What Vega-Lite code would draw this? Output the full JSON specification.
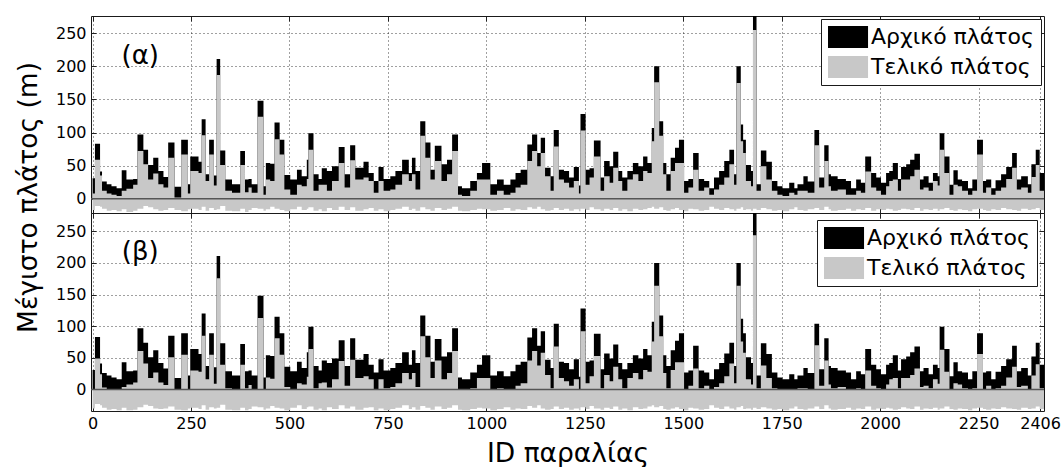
{
"$schema": "https://vega.github.io/schema/vega-lite/v6.json",
"padding": {"left": 14, "top": 15, "right": 15, "bottom": 0},
"spacing": 0,
"bounds": "flush",
"config": {
  "font": "DejaVu Sans",
  "view": {"stroke": "#1a1a1a", "strokeWidth": 1},
  "axis": {"domain": false, "ticks": true, "tickSize": -5, "tickColor": "#222", "labelPadding": 10, "labelFont": "DejaVu Sans", "labelFontSize": 16, "labelColor": "#000", "grid": true, "gridColor": "#000", "gridDash": [1, 3], "gridOpacity": 0.75, "titleFont": "DejaVu Sans", "titleFontWeight": "normal", "titleColor": "#000", "titleFontSize": 26.5, "labelOverlap": false, "labelFlush": false},
  "legend": {"title": null, "orient": "top-right", "symbolType": "M-1,-1H2.64V1H-1Z", "symbolSize": 484, "symbolStrokeWidth": 0, "symbolOpacity": 1, "labelFont": "DejaVu Sans", "labelFontSize": 22, "labelColor": "#000", "labelOffset": 21, "labelLimit": 400, "strokeColor": "#1a1a1a", "fillColor": "#ffffff", "padding": 7, "rowPadding": 8}
},
"datasets": {"w": [
{"s":0,"a":31,"f1":8,"f2":0,"n1":-17,"n2":-30},
{"s":6,"a":83,"f1":59,"f2":49,"n1":-11,"n2":-23},
{"s":19,"a":41,"f1":35,"f2":24,"n1":-12,"n2":-25},
{"s":24,"a":26,"f1":12,"f2":3,"n1":-15,"n2":-29},
{"s":36,"a":22,"f1":8,"f2":0,"n1":-18,"n2":-32},
{"s":48,"a":19,"f1":6,"f2":0,"n1":-17,"n2":-31},
{"s":61,"a":16,"f1":4,"f2":0,"n1":-19,"n2":-33},
{"s":74,"a":43,"f1":12,"f2":4,"n1":-16,"n2":-29},
{"s":86,"a":29,"f1":15,"f2":8,"n1":-20,"n2":-33},
{"s":103,"a":30,"f1":21,"f2":11,"n1":-18,"n2":-32},
{"s":114,"a":97,"f1":72,"f2":61,"n1":-15,"n2":-28},
{"s":129,"a":74,"f1":52,"f2":41,"n1":-11,"n2":-24},
{"s":141,"a":51,"f1":29,"f2":18,"n1":-13,"n2":-26},
{"s":154,"a":62,"f1":38,"f2":27,"n1":-16,"n2":-30},
{"s":167,"a":42,"f1":22,"f2":11,"n1":-18,"n2":-31},
{"s":180,"a":33,"f1":17,"f2":7,"n1":-17,"n2":-30},
{"s":192,"a":85,"f1":62,"f2":51,"n1":-14,"n2":-27},
{"s":208,"a":18,"f1":2,"f2":0,"n1":-17,"n2":-32},
{"s":225,"a":89,"f1":67,"f2":55,"n1":-19,"n2":-33},
{"s":242,"a":22,"f1":8,"f2":0,"n1":-16,"n2":-30},
{"s":248,"a":64,"f1":42,"f2":30,"n1":-15,"n2":-29},
{"s":269,"a":56,"f1":39,"f2":28,"n1":-17,"n2":-31},
{"s":277,"a":120,"f1":96,"f2":85,"n1":-12,"n2":-25},
{"s":287,"a":37,"f1":27,"f2":16,"n1":-18,"n2":-32},
{"s":296,"a":89,"f1":67,"f2":55,"n1":-14,"n2":-28},
{"s":308,"a":35,"f1":20,"f2":9,"n1":-17,"n2":-30},
{"s":315,"a":211,"f1":187,"f2":176,"n1":-16,"n2":-29},
{"s":324,"a":73,"f1":51,"f2":39,"n1":-11,"n2":-24},
{"s":337,"a":29,"f1":12,"f2":2,"n1":-18,"n2":-32},
{"s":354,"a":22,"f1":9,"f2":0,"n1":-19,"n2":-33},
{"s":375,"a":72,"f1":51,"f2":39,"n1":-15,"n2":-29},
{"s":387,"a":29,"f1":10,"f2":2,"n1":-20,"n2":-33},
{"s":396,"a":30,"f1":17,"f2":7,"n1":-17,"n2":-31},
{"s":404,"a":22,"f1":9,"f2":0,"n1":-14,"n2":-27},
{"s":419,"a":148,"f1":124,"f2":113,"n1":-15,"n2":-28},
{"s":434,"a":19,"f1":6,"f2":0,"n1":-18,"n2":-32},
{"s":440,"a":54,"f1":29,"f2":19,"n1":-16,"n2":-30},
{"s":451,"a":53,"f1":27,"f2":17,"n1":-12,"n2":-26},
{"s":462,"a":115,"f1":90,"f2":81,"n1":-15,"n2":-29},
{"s":475,"a":89,"f1":67,"f2":55,"n1":-17,"n2":-30},
{"s":487,"a":36,"f1":14,"f2":4,"n1":-19,"n2":-33},
{"s":502,"a":29,"f1":6,"f2":0,"n1":-16,"n2":-29},
{"s":519,"a":44,"f1":21,"f2":10,"n1":-12,"n2":-25},
{"s":531,"a":34,"f1":19,"f2":8,"n1":-17,"n2":-31},
{"s":544,"a":59,"f1":30,"f2":20,"n1":-15,"n2":-28},
{"s":548,"a":99,"f1":74,"f2":64,"n1":-13,"n2":-27},
{"s":561,"a":37,"f1":12,"f2":2,"n1":-18,"n2":-32},
{"s":574,"a":30,"f1":21,"f2":10,"n1":-16,"n2":-30},
{"s":582,"a":46,"f1":21,"f2":11,"n1":-19,"n2":-33},
{"s":595,"a":42,"f1":12,"f2":3,"n1":-14,"n2":-28},
{"s":608,"a":49,"f1":27,"f2":16,"n1":-17,"n2":-31},
{"s":625,"a":78,"f1":54,"f2":45,"n1":-12,"n2":-25},
{"s":640,"a":37,"f1":17,"f2":6,"n1":-17,"n2":-30},
{"s":654,"a":81,"f1":58,"f2":47,"n1":-13,"n2":-27},
{"s":667,"a":47,"f1":29,"f2":18,"n1":-18,"n2":-32},
{"s":688,"a":56,"f1":32,"f2":21,"n1":-16,"n2":-29},
{"s":701,"a":39,"f1":27,"f2":16,"n1":-14,"n2":-28},
{"s":714,"a":27,"f1":9,"f2":0,"n1":-18,"n2":-33},
{"s":726,"a":48,"f1":27,"f2":16,"n1":-16,"n2":-30},
{"s":739,"a":30,"f1":12,"f2":2,"n1":-19,"n2":-33},
{"s":756,"a":34,"f1":14,"f2":4,"n1":-17,"n2":-31},
{"s":769,"a":42,"f1":21,"f2":10,"n1":-15,"n2":-29},
{"s":786,"a":59,"f1":37,"f2":26,"n1":-12,"n2":-25},
{"s":803,"a":39,"f1":27,"f2":16,"n1":-17,"n2":-31},
{"s":811,"a":62,"f1":37,"f2":26,"n1":-15,"n2":-28},
{"s":820,"a":42,"f1":14,"f2":4,"n1":-18,"n2":-32},
{"s":832,"a":117,"f1":95,"f2":84,"n1":-13,"n2":-26},
{"s":845,"a":85,"f1":62,"f2":51,"n1":-16,"n2":-29},
{"s":858,"a":44,"f1":29,"f2":18,"n1":-18,"n2":-32},
{"s":869,"a":80,"f1":57,"f2":46,"n1":-14,"n2":-27},
{"s":886,"a":52,"f1":27,"f2":16,"n1":-17,"n2":-31},
{"s":900,"a":59,"f1":37,"f2":26,"n1":-15,"n2":-29},
{"s":913,"a":97,"f1":72,"f2":61,"n1":-12,"n2":-25},
{"s":928,"a":19,"f1":6,"f2":0,"n1":-18,"n2":-32},
{"s":938,"a":16,"f1":4,"f2":0,"n1":-19,"n2":-33},
{"s":959,"a":27,"f1":12,"f2":2,"n1":-17,"n2":-31},
{"s":976,"a":39,"f1":29,"f2":18,"n1":-15,"n2":-29},
{"s":989,"a":54,"f1":29,"f2":18,"n1":-16,"n2":-30},
{"s":1010,"a":22,"f1":6,"f2":0,"n1":-18,"n2":-33},
{"s":1027,"a":29,"f1":12,"f2":2,"n1":-17,"n2":-31},
{"s":1044,"a":21,"f1":6,"f2":0,"n1":-14,"n2":-28},
{"s":1061,"a":29,"f1":9,"f2":0,"n1":-18,"n2":-32},
{"s":1074,"a":39,"f1":17,"f2":6,"n1":-16,"n2":-30},
{"s":1087,"a":44,"f1":21,"f2":10,"n1":-17,"n2":-31},
{"s":1104,"a":82,"f1":57,"f2":46,"n1":-13,"n2":-26},
{"s":1116,"a":97,"f1":72,"f2":61,"n1":-15,"n2":-29},
{"s":1129,"a":69,"f1":49,"f2":38,"n1":-12,"n2":-25},
{"s":1138,"a":92,"f1":69,"f2":58,"n1":-16,"n2":-30},
{"s":1149,"a":47,"f1":34,"f2":23,"n1":-18,"n2":-32},
{"s":1163,"a":34,"f1":12,"f2":2,"n1":-17,"n2":-31},
{"s":1171,"a":104,"f1":79,"f2":68,"n1":-14,"n2":-27},
{"s":1184,"a":44,"f1":29,"f2":18,"n1":-17,"n2":-31},
{"s":1197,"a":42,"f1":24,"f2":13,"n1":-15,"n2":-29},
{"s":1210,"a":32,"f1":17,"f2":6,"n1":-18,"n2":-32},
{"s":1222,"a":48,"f1":27,"f2":16,"n1":-16,"n2":-30},
{"s":1235,"a":20,"f1":8,"f2":0,"n1":-19,"n2":-33},
{"s":1239,"a":128,"f1":103,"f2":92,"n1":-15,"n2":-28},
{"s":1252,"a":44,"f1":21,"f2":10,"n1":-17,"n2":-31},
{"s":1262,"a":46,"f1":32,"f2":21,"n1":-13,"n2":-26},
{"s":1273,"a":88,"f1":64,"f2":53,"n1":-16,"n2":-30},
{"s":1290,"a":32,"f1":12,"f2":2,"n1":-18,"n2":-32},
{"s":1299,"a":57,"f1":34,"f2":23,"n1":-15,"n2":-29},
{"s":1313,"a":49,"f1":24,"f2":13,"n1":-17,"n2":-31},
{"s":1322,"a":71,"f1":47,"f2":36,"n1":-14,"n2":-27},
{"s":1335,"a":42,"f1":27,"f2":16,"n1":-18,"n2":-32},
{"s":1345,"a":32,"f1":12,"f2":2,"n1":-16,"n2":-30},
{"s":1358,"a":42,"f1":29,"f2":18,"n1":-19,"n2":-33},
{"s":1372,"a":54,"f1":37,"f2":26,"n1":-15,"n2":-28},
{"s":1386,"a":49,"f1":27,"f2":16,"n1":-17,"n2":-31},
{"s":1398,"a":64,"f1":42,"f2":31,"n1":-16,"n2":-30},
{"s":1409,"a":54,"f1":39,"f2":28,"n1":-14,"n2":-27},
{"s":1420,"a":107,"f1":87,"f2":76,"n1":-12,"n2":-25},
{"s":1426,"a":200,"f1":176,"f2":164,"n1":-15,"n2":-28},
{"s":1439,"a":117,"f1":95,"f2":84,"n1":-13,"n2":-26},
{"s":1449,"a":54,"f1":37,"f2":26,"n1":-17,"n2":-31},
{"s":1457,"a":37,"f1":12,"f2":2,"n1":-18,"n2":-32},
{"s":1468,"a":62,"f1":42,"f2":31,"n1":-16,"n2":-30},
{"s":1479,"a":77,"f1":54,"f2":43,"n1":-14,"n2":-28},
{"s":1489,"a":89,"f1":54,"f2":43,"n1":-17,"n2":-31},
{"s":1502,"a":27,"f1":9,"f2":0,"n1":-19,"n2":-33},
{"s":1513,"a":30,"f1":17,"f2":6,"n1":-15,"n2":-29},
{"s":1525,"a":69,"f1":44,"f2":33,"n1":-16,"n2":-30},
{"s":1539,"a":30,"f1":12,"f2":2,"n1":-18,"n2":-32},
{"s":1553,"a":27,"f1":17,"f2":6,"n1":-17,"n2":-31},
{"s":1566,"a":16,"f1":6,"f2":0,"n1":-12,"n2":-25},
{"s":1578,"a":32,"f1":14,"f2":4,"n1":-15,"n2":-29},
{"s":1591,"a":42,"f1":21,"f2":10,"n1":-17,"n2":-31},
{"s":1604,"a":57,"f1":32,"f2":21,"n1":-14,"n2":-27},
{"s":1617,"a":74,"f1":52,"f2":41,"n1":-16,"n2":-30},
{"s":1629,"a":37,"f1":21,"f2":10,"n1":-18,"n2":-32},
{"s":1635,"a":200,"f1":175,"f2":164,"n1":-15,"n2":-28},
{"s":1646,"a":112,"f1":87,"f2":76,"n1":-13,"n2":-26},
{"s":1652,"a":89,"f1":69,"f2":58,"n1":-17,"n2":-31},
{"s":1659,"a":51,"f1":27,"f2":16,"n1":-16,"n2":-30},
{"s":1672,"a":42,"f1":19,"f2":8,"n1":-18,"n2":-32},
{"s":1677,"a":280,"f1":255,"f2":244,"n1":-15,"n2":-29},
{"s":1686,"a":22,"f1":12,"f2":2,"n1":-17,"n2":-31},
{"s":1697,"a":73,"f1":49,"f2":38,"n1":-14,"n2":-28},
{"s":1711,"a":56,"f1":29,"f2":18,"n1":-16,"n2":-30},
{"s":1725,"a":27,"f1":12,"f2":2,"n1":-18,"n2":-32},
{"s":1739,"a":19,"f1":6,"f2":0,"n1":-17,"n2":-31},
{"s":1752,"a":16,"f1":4,"f2":0,"n1":-19,"n2":-33},
{"s":1769,"a":24,"f1":9,"f2":0,"n1":-16,"n2":-30},
{"s":1782,"a":16,"f1":6,"f2":0,"n1":-13,"n2":-27},
{"s":1790,"a":22,"f1":12,"f2":2,"n1":-17,"n2":-31},
{"s":1805,"a":34,"f1":12,"f2":2,"n1":-18,"n2":-32},
{"s":1816,"a":26,"f1":9,"f2":0,"n1":-16,"n2":-30},
{"s":1833,"a":104,"f1":81,"f2":70,"n1":-14,"n2":-27},
{"s":1845,"a":32,"f1":17,"f2":6,"n1":-17,"n2":-31},
{"s":1858,"a":81,"f1":57,"f2":46,"n1":-12,"n2":-25},
{"s":1869,"a":37,"f1":19,"f2":8,"n1":-16,"n2":-30},
{"s":1875,"a":34,"f1":12,"f2":2,"n1":-18,"n2":-32},
{"s":1892,"a":30,"f1":14,"f2":4,"n1":-17,"n2":-31},
{"s":1913,"a":27,"f1":6,"f2":0,"n1":-15,"n2":-29},
{"s":1926,"a":16,"f1":6,"f2":0,"n1":-18,"n2":-32},
{"s":1939,"a":29,"f1":12,"f2":2,"n1":-16,"n2":-30},
{"s":1951,"a":24,"f1":9,"f2":0,"n1":-17,"n2":-31},
{"s":1962,"a":64,"f1":41,"f2":30,"n1":-14,"n2":-27},
{"s":1977,"a":39,"f1":17,"f2":6,"n1":-18,"n2":-32},
{"s":1990,"a":32,"f1":12,"f2":2,"n1":-16,"n2":-30},
{"s":2002,"a":24,"f1":6,"f2":0,"n1":-17,"n2":-31},
{"s":2015,"a":39,"f1":19,"f2":8,"n1":-15,"n2":-29},
{"s":2023,"a":42,"f1":27,"f2":16,"n1":-16,"n2":-30},
{"s":2032,"a":54,"f1":29,"f2":18,"n1":-18,"n2":-32},
{"s":2045,"a":30,"f1":12,"f2":2,"n1":-17,"n2":-31},
{"s":2053,"a":48,"f1":29,"f2":18,"n1":-15,"n2":-28},
{"s":2066,"a":52,"f1":29,"f2":18,"n1":-16,"n2":-30},
{"s":2076,"a":59,"f1":34,"f2":23,"n1":-17,"n2":-31},
{"s":2087,"a":68,"f1":44,"f2":33,"n1":-14,"n2":-27},
{"s":2101,"a":29,"f1":14,"f2":4,"n1":-18,"n2":-32},
{"s":2110,"a":34,"f1":17,"f2":6,"n1":-16,"n2":-30},
{"s":2123,"a":24,"f1":12,"f2":2,"n1":-17,"n2":-31},
{"s":2134,"a":39,"f1":27,"f2":16,"n1":-15,"n2":-29},
{"s":2146,"a":34,"f1":20,"f2":9,"n1":-18,"n2":-32},
{"s":2151,"a":99,"f1":74,"f2":63,"n1":-16,"n2":-30},
{"s":2163,"a":64,"f1":39,"f2":28,"n1":-14,"n2":-27},
{"s":2176,"a":21,"f1":6,"f2":0,"n1":-17,"n2":-31},
{"s":2186,"a":43,"f1":21,"f2":10,"n1":-18,"n2":-32},
{"s":2197,"a":29,"f1":19,"f2":8,"n1":-16,"n2":-30},
{"s":2208,"a":27,"f1":12,"f2":2,"n1":-17,"n2":-31},
{"s":2223,"a":16,"f1":6,"f2":0,"n1":-19,"n2":-33},
{"s":2234,"a":29,"f1":12,"f2":2,"n1":-16,"n2":-30},
{"s":2246,"a":89,"f1":67,"f2":56,"n1":-15,"n2":-29},
{"s":2261,"a":27,"f1":9,"f2":0,"n1":-17,"n2":-31},
{"s":2269,"a":29,"f1":17,"f2":6,"n1":-18,"n2":-32},
{"s":2282,"a":16,"f1":6,"f2":0,"n1":-16,"n2":-30},
{"s":2293,"a":28,"f1":12,"f2":2,"n1":-17,"n2":-31},
{"s":2307,"a":37,"f1":17,"f2":6,"n1":-14,"n2":-28},
{"s":2320,"a":48,"f1":30,"f2":19,"n1":-16,"n2":-30},
{"s":2335,"a":69,"f1":47,"f2":36,"n1":-17,"n2":-31},
{"s":2347,"a":29,"f1":14,"f2":4,"n1":-18,"n2":-32},
{"s":2358,"a":34,"f1":17,"f2":6,"n1":-15,"n2":-29},
{"s":2375,"a":22,"f1":9,"f2":0,"n1":-17,"n2":-31},
{"s":2384,"a":52,"f1":33,"f2":22,"n1":-16,"n2":-30},
{"s":2395,"a":74,"f1":51,"f2":40,"n1":-14,"n2":-27},
{"s":2405,"a":39,"f1":12,"f2":2,"n1":-17,"n2":-31},
{"s":2416,"a":42,"f1":29,"f2":18,"n1":-17,"n2":-31}
]},
"resolve": {"scale": {"y": "independent", "color": "independent"}, "legend": {"color": "independent"}},
"vconcat": [
  {
    "width": 953, "height": 197,
    "data": {"name": "w"},
    "resolve": {"axis": {"x": "independent", "y": "independent"}},
    "layer": [
      {"mark": {"type": "area", "interpolate": "step-after", "color": "#c8c8c8", "opacity": 1, "clip": true},
       "encoding": {
         "x": {"field": "s", "type": "quantitative", "scale": {"domain": [-4, 2416], "nice": false, "zero": false},
               "axis": {"values": [0,250,500,750,1000,1250,1500,1750,2000,2250,2406], "labels": false, "title": null}},
         "y": {"field": "n1", "type": "quantitative", "stack": null, "scale": {"domain": [-21.5, 276], "nice": false, "zero": false},
               "axis": {"values": [0,50,100,150,200,250], "format": "d", "title": "Μέγιστο πλάτος (m)", "titleX": -55, "titleY": 181, "titleAngle": -90, "titleAlign": "center", "titleBaseline": "alphabetic"}},
         "y2": {"datum": 0}}},
      {"mark": {"type": "area", "interpolate": "step-after", "opacity": 1, "clip": true},
       "encoding": {
         "x": {"field": "s", "type": "quantitative", "axis": null},
         "y": {"field": "a", "type": "quantitative", "stack": null, "axis": null},
         "y2": {"datum": 0},
         "color": {"datum": "Αρχικό πλάτος", "type": "nominal", "scale": {"domain": ["Αρχικό πλάτος", "Τελικό πλάτος"], "range": ["#000000", "#c8c8c8"]}, "legend": {"offset": 3}}}},
      {"mark": {"type": "area", "interpolate": "step-after", "opacity": 1, "clip": true},
       "encoding": {
         "x": {"field": "s", "type": "quantitative", "axis": null},
         "y": {"field": "f1", "type": "quantitative", "stack": null, "axis": null},
         "y2": {"datum": 0},
         "color": {"datum": "Τελικό πλάτος", "type": "nominal"}}},
      {"data": {"values": [{}]}, "mark": {"type": "rule", "color": "#555555", "strokeWidth": 1.5},
       "encoding": {"y": {"datum": 0, "axis": {"orient": "right", "values": [0,50,100,150,200,250], "labels": false, "grid": false, "title": null}}}},
      {"data": {"values": [{}]}, "mark": {"type": "text", "text": "(α)", "font": "DejaVu Sans", "fontSize": 26, "align": "center", "baseline": "middle", "color": "#000"},
       "encoding": {"x": {"datum": 121, "axis": {"orient": "top", "values": [0,250,500,750,1000,1250,1500,1750,2000,2250,2406], "labels": false, "grid": false, "title": null}}, "y": {"datum": 216, "axis": null}}}
    ]
  },
  {
    "width": 953, "height": 198,
    "data": {"name": "w"},
    "resolve": {"axis": {"x": "independent", "y": "independent"}},
    "layer": [
      {"mark": {"type": "area", "interpolate": "step-after", "color": "#c8c8c8", "opacity": 1, "clip": true},
       "encoding": {
         "x": {"field": "s", "type": "quantitative", "scale": {"domain": [-4, 2416], "nice": false, "zero": false},
               "axis": {"values": [0,250,500,750,1000,1250,1500,1750,2000,2250,2406], "format": "d", "labelPadding": 9, "title": "ID παραλίας", "titleY": 50, "titleBaseline": "alphabetic"}},
         "y": {"field": "n2", "type": "quantitative", "stack": null, "scale": {"domain": [-34, 279], "nice": false, "zero": false},
               "axis": {"values": [0,50,100,150,200,250], "format": "d", "title": null}},
         "y2": {"datum": 0}}},
      {"mark": {"type": "area", "interpolate": "step-after", "opacity": 1, "clip": true},
       "encoding": {
         "x": {"field": "s", "type": "quantitative", "axis": null},
         "y": {"field": "a", "type": "quantitative", "stack": null, "axis": null},
         "y2": {"datum": 0},
         "color": {"datum": "Αρχικό πλάτος", "type": "nominal", "scale": {"domain": ["Αρχικό πλάτος", "Τελικό πλάτος"], "range": ["#000000", "#c8c8c8"]}, "legend": {"offset": 7}}}},
      {"mark": {"type": "area", "interpolate": "step-after", "opacity": 1, "clip": true},
       "encoding": {
         "x": {"field": "s", "type": "quantitative", "axis": null},
         "y": {"field": "f2", "type": "quantitative", "stack": null, "axis": null},
         "y2": {"datum": 0},
         "color": {"datum": "Τελικό πλάτος", "type": "nominal"}}},
      {"data": {"values": [{}]}, "mark": {"type": "rule", "color": "#555555", "strokeWidth": 1.5},
       "encoding": {"y": {"datum": 0, "axis": {"orient": "right", "values": [0,50,100,150,200,250], "labels": false, "grid": false, "title": null}}}},
      {"data": {"values": [{}]}, "mark": {"type": "text", "text": "(β)", "font": "DejaVu Sans", "fontSize": 26, "align": "center", "baseline": "middle", "color": "#000"},
       "encoding": {"x": {"datum": 121, "axis": {"orient": "top", "values": [0,250,500,750,1000,1250,1500,1750,2000,2250,2406], "labels": false, "grid": false, "title": null}}, "y": {"datum": 217, "axis": null}}}
    ]
  }
]
}
